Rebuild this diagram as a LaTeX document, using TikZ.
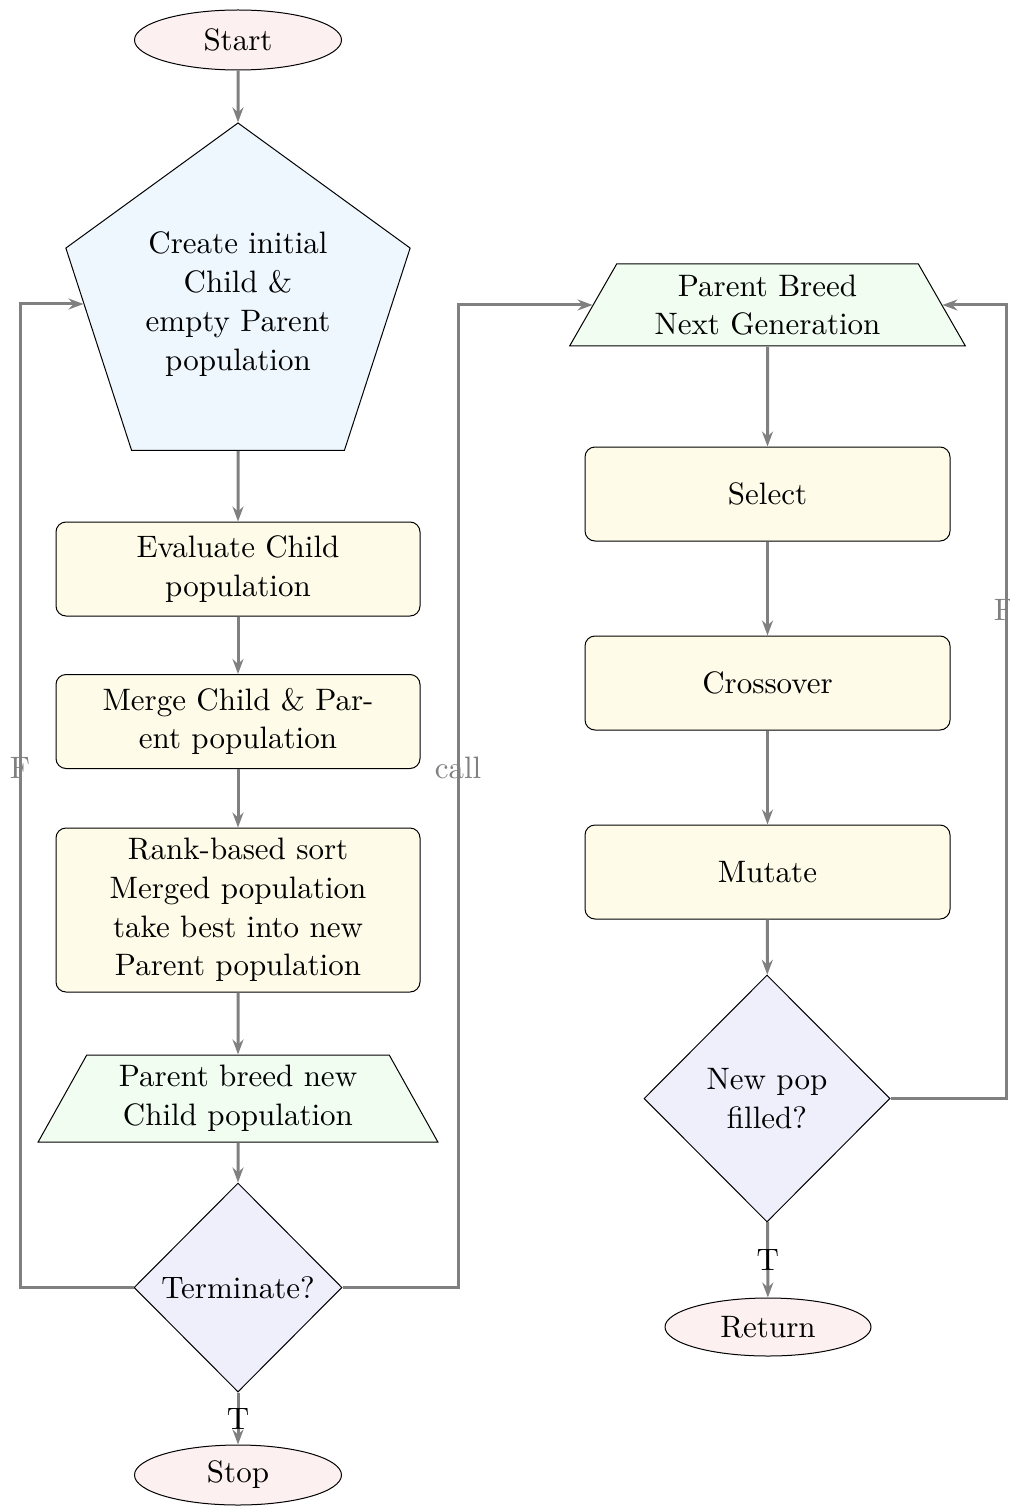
\documentclass[tikz,border=0pt]{standalone}
\usepackage{fontspec}
\setmainfont{lmroman10-regular.otf}
\usetikzlibrary{shapes.geometric,arrows.meta}
\definecolor{termfill}{RGB}{253,240,240}
\definecolor{pentfill}{RGB}{238,247,254}
\definecolor{procfill}{RGB}{254,252,232}
\definecolor{iofill}{RGB}{240,253,240}
\definecolor{decfill}{RGB}{239,239,252}
\begin{document}
\begin{tikzpicture}[x=0.5pt,y=-0.5pt,
  every node/.style={font=\fontsize{15.5pt}{19.4pt}\selectfont},
  base/.style={draw=black,line width=0.5pt,align=center,inner sep=0pt},
  terminal/.style={base,ellipse,fill=termfill,minimum width=103.5pt,minimum height=30pt},
  pentabox/.style={base,regular polygon,regular polygon sides=5,fill=pentfill,minimum size=181pt},
  procbox/.style={base,rectangle,rounded corners=5pt,fill=procfill,minimum width=182pt,minimum height=47pt},
  iobox/.style={base,trapezium,trapezium angle=60,trapezium stretches=true,fill=iofill,minimum width=198pt},
  decbox/.style={base,diamond,fill=decfill},
  arr/.style={draw=gray,line width=1.5pt,-{Stealth[length=7.5pt,width=5.5pt,inset=2.5pt]}},
  glabel/.style={text=gray,inner sep=0pt},
  blabel/.style={text=black,inner sep=0pt}
]
\useasboundingbox (0,0) rectangle (1010,1508);

% left column
\node[terminal] (start) at (238,40) {Start};
\node[pentabox] (pent) at (238,304) {Create initial\\Child \&\\empty Parent\\population};
\node[procbox] (eval) at (238,569) {Evaluate Child\\population};
\node[procbox] (merge) at (238,721.5) {Merge Child \& Par-\\ent population};
\node[procbox,minimum height=82pt] (rank) at (238,910) {Rank-based sort\\Merged population\\take best into new\\Parent population};
\node[iobox,minimum width=200pt,minimum height=43.5pt] (breed) at (238,1098.5) {Parent breed new\\Child population};
\node[decbox,minimum width=104pt,minimum height=104.5pt] (term) at (238,1287.5) {Terminate?};
\node[terminal] (stop) at (238,1475) {Stop};

% right column
\node[iobox,minimum height=41pt] (pb) at (767.5,305) {Parent Breed\\Next Generation};
\node[procbox,minimum width=182.5pt] (sel) at (767.5,494) {Select};
\node[procbox,minimum width=182.5pt] (cross) at (767.5,683) {Crossover};
\node[procbox,minimum width=182.5pt] (mut) at (767.5,872) {Mutate};
\node[decbox,minimum width=123pt,minimum height=123.5pt] (newpop) at (767,1098.5) {New pop\\filled?};
\node[terminal,minimum width=103pt,minimum height=29pt] (ret) at (768,1327) {Return};

\coordinate (lf) at (20,768);
\coordinate (rc) at (458,768);
\coordinate (rf) at (1006,610);

% connectors
\draw[arr] (start) -- (pent);
\draw[arr] (pent) -- (eval);
\draw[arr] (eval) -- (merge);
\draw[arr] (merge) -- (rank);
\draw[arr] (rank) -- (breed);
\draw[arr] (breed) -- (term);
\draw[arr] (term) -- node[blabel] {T} (stop);
\draw[arr] (term.west) -| (lf) |- (pent);
\draw[arr] (term.east) -| (rc) |- (pb);

\draw[arr] (pb) -- (sel);
\draw[arr] (sel) -- (cross);
\draw[arr] (cross) -- (mut);
\draw[arr] (mut) -- (newpop);
\draw[arr] (newpop) -- node[blabel] {T} (ret);
\draw[arr] (newpop.east) -| (rf) |- (pb);

% labels
\node[glabel] (lfl) at (lf) {F};
\node[glabel] (rcl) at (rc) {call};
\node[glabel] (rfl) at ([xshift=-1pt]rf) {F};
\end{tikzpicture}
\end{document}
